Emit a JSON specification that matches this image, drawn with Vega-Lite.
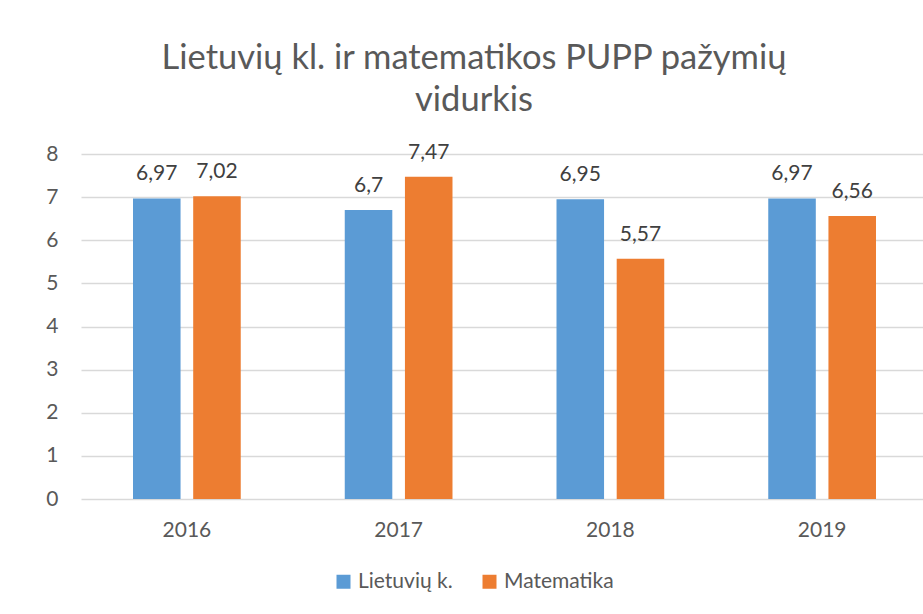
{
  "$schema": "https://vega.github.io/schema/vega-lite/v6.json",
  "autosize": {"type": "none"},
  "padding": {"left": 81, "top": 154, "right": 0, "bottom": 115},
  "width": 842,
  "height": 345,
  "background": "white",
  "title": {
    "text": ["Lietuvių kl. ir matematikos PUPP pažymių", "vidurkis"],
    "font": "Lato",
    "fontSize": 34.5,
    "fontWeight": "normal",
    "color": "#595959",
    "lineHeight": 42,
    "anchor": "middle",
    "dx": -28,
    "offset": 23
  },
  "data": {
    "values": [
      {"year": "2016", "series": "Lietuvių k.", "value": 6.97},
      {"year": "2016", "series": "Matematika", "value": 7.02},
      {"year": "2017", "series": "Lietuvių k.", "value": 6.7},
      {"year": "2017", "series": "Matematika", "value": 7.47},
      {"year": "2018", "series": "Lietuvių k.", "value": 6.95},
      {"year": "2018", "series": "Matematika", "value": 5.57},
      {"year": "2019", "series": "Lietuvių k.", "value": 6.97},
      {"year": "2019", "series": "Matematika", "value": 6.56}
    ]
  },
  "encoding": {
    "x": {
      "field": "year", "type": "nominal",
      "scale": {"range": [0, 847], "paddingInner": 0, "paddingOuter": 0},
      "axis": {"title": null, "labelAngle": 0, "ticks": false, "domain": false, "labelPadding": 20, "labelFontSize": 21, "labelColor": "#595959", "labelFont": "Lato"}
    },
    "xOffset": {
      "field": "series", "type": "nominal",
      "scale": {"paddingInner": 0.21, "paddingOuter": 0.864}
    },
    "y": {
      "field": "value", "type": "quantitative",
      "scale": {"domain": [0, 8], "nice": false},
      "axis": {"title": null, "values": [0,1,2,3,4,5,6,7,8], "grid": true, "gridColor": "#D9D9D9", "gridWidth": 1.3, "domain": false, "ticks": false, "labelPadding": 23, "labelFontSize": 21, "labelColor": "#595959", "labelFont": "Lato"}
    }
  },
  "layer": [
    {
      "mark": {"type": "bar"},
      "encoding": {
        "color": {
          "field": "series", "type": "nominal",
          "scale": {"domain": ["Lietuvių k.", "Matematika"], "range": ["#5B9BD5", "#ED7D31"]},
          "legend": {
            "title": null, "orient": "none", "legendX": 252, "legendY": 417,
            "direction": "horizontal", "symbolType": "square", "symbolSize": 196,
            "symbolStrokeWidth": 0, "labelFontSize": 21, "labelColor": "#595959",
            "labelFont": "Lato", "columnPadding": 26, "labelOffset": 4
          }
        }
      }
    },
    {
      "mark": {"type": "text", "baseline": "alphabetic", "dy": -18, "fontSize": 21, "font": "Lato", "color": "#404040"},
      "encoding": {
        "text": {"field": "value", "type": "quantitative", "format": ".2~f"}
      }
    }
  ],
  "config": {
    "view": {"stroke": null},
    "locale": {"number": {"decimal": ",", "thousands": " ", "grouping": [3], "currency": ["", " €"]}}
  }
}
